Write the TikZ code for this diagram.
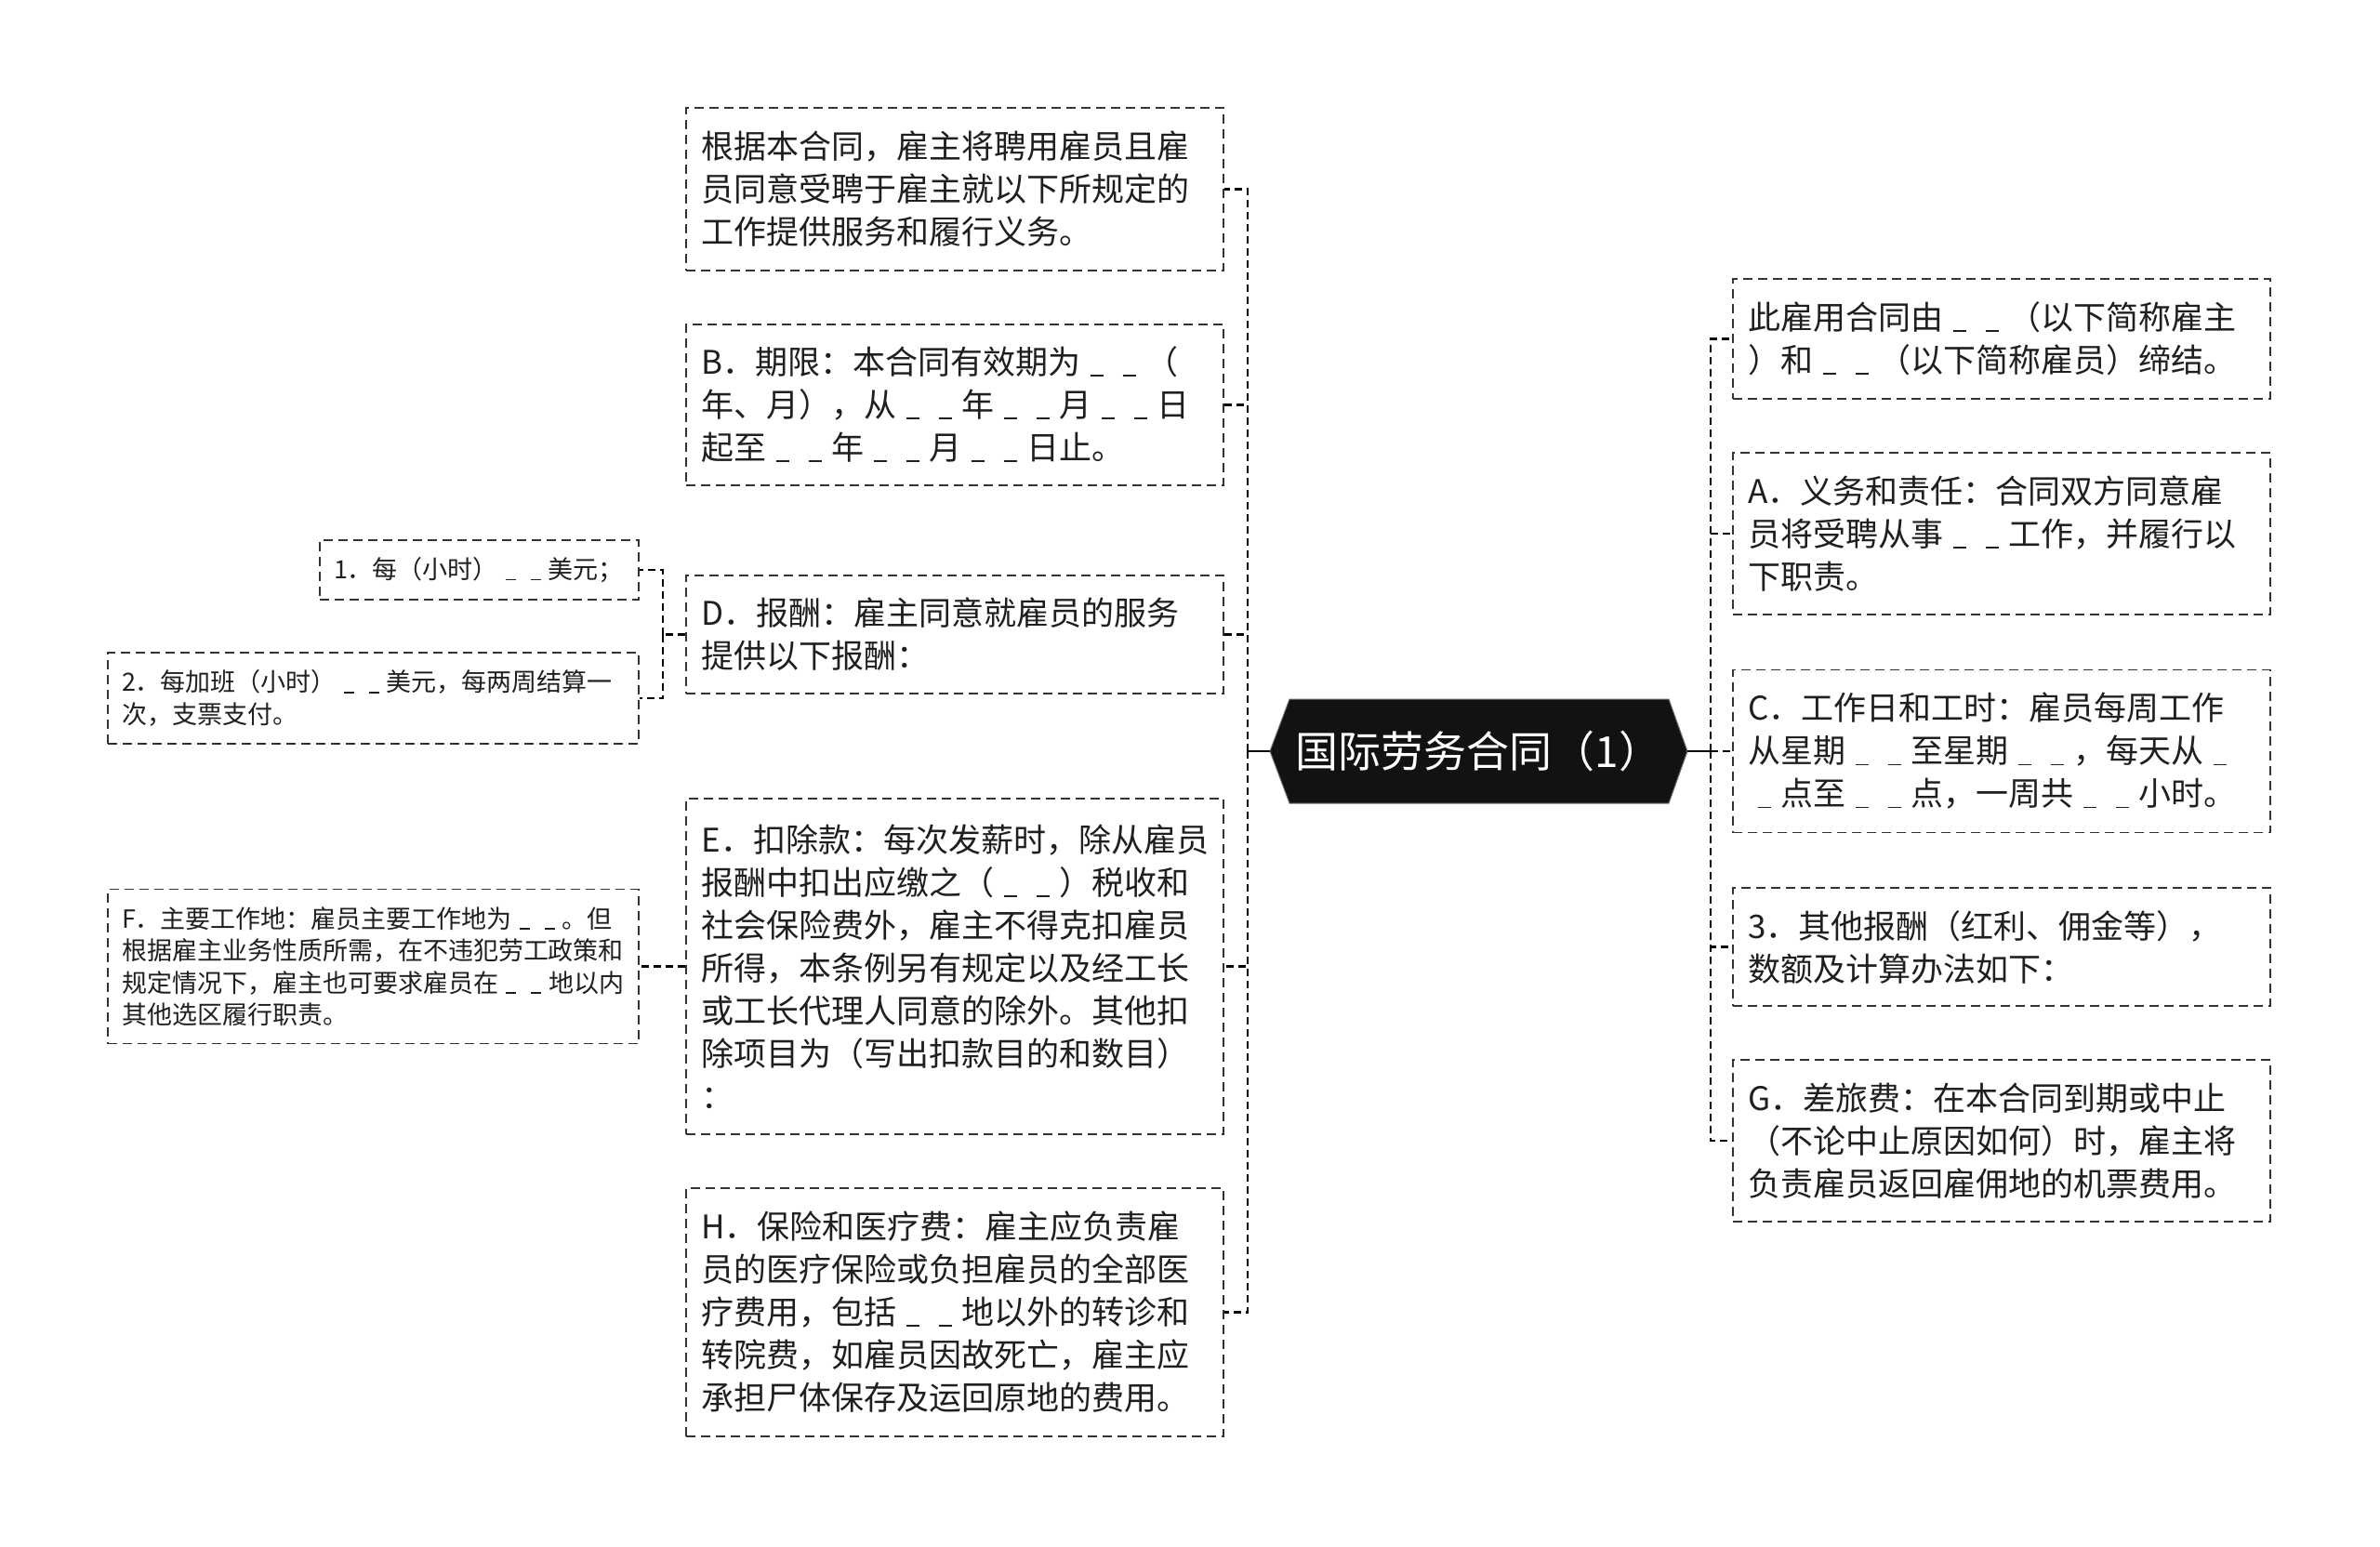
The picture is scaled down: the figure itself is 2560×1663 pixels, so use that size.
\documentclass[tikz,border=0pt]{standalone}
\usepackage{fontspec}
\newfontfamily\cjk{Noto Sans CJK SC}
\newcommand\bl{\leavevmode\hbox to 1em{\hss\rule[-0.07em]{0.42em}{0.055em}\hss}}
\tikzset{
  box/.style={draw=black!80, line width=1.9pt, dash pattern=on 10pt off 6pt,
    inner sep=0pt, align=left, anchor=center, text=black!88},
  bigbox/.style={box, font=\cjk\fontsize{35}{46}\selectfont, text width=545pt, minimum width=578pt},
  smallbox/.style={box, font=\cjk\fontsize{27}{34.5}\selectfont},
  conn/.style={line width=2.8pt, dash pattern=on 8pt off 5pt},
  stem/.style={line width=2.8pt},
}
\begin{document}
\begin{tikzpicture}[x=1pt,y=-1pt]
\useasboundingbox[fill=white] (0,0) rectangle (2560,1663);

% center node
\fill[black!93, draw=black!55, line width=1pt] (1366,808) -- (1387,752) -- (1795,752) -- (1815,808) -- (1795,864) -- (1387,864) -- cycle;
\node[minimum width=449pt, minimum height=112pt, inner sep=0pt, text=white,
  font=\cjk\fontsize{46}{50}\selectfont] (c) at (1590.5,808) {国际劳务合同（1）};

% left column
\node[bigbox, minimum height=175pt] (t1) at (1027,203.5) {根据本合同，雇主将聘用雇员且雇\\员同意受聘于雇主就以下所规定的\\工作提供服务和履行义务。};
\node[bigbox, minimum height=173pt] (tb) at (1027,435.5) {B．期限：本合同有效期为\bl{}\bl{}（\\年、月），从\bl{}\bl{}年\bl{}\bl{}月\bl{}\bl{}日\\起至\bl{}\bl{}年\bl{}\bl{}月\bl{}\bl{}日止。};
\node[bigbox, minimum height=127pt] (td) at (1027,682.5) {D．报酬：雇主同意就雇员的服务\\提供以下报酬：};
\node[bigbox, minimum height=361pt] (te) at (1027,1039.5) {E．扣除款：每次发薪时，除从雇员\\报酬中扣出应缴之（\bl{}\bl{}）税收和\\社会保险费外，雇主不得克扣雇员\\所得，本条例另有规定以及经工长\\或工长代理人同意的除外。其他扣\\除项目为（写出扣款目的和数目）\\：};
\node[bigbox, minimum height=267pt] (th) at (1027,1411.5) {H．保险和医疗费：雇主应负责雇\\员的医疗保险或负担雇员的全部医\\疗费用，包括\bl{}\bl{}地以外的转诊和\\转院费，如雇员因故死亡，雇主应\\承担尸体保存及运回原地的费用。};

% far left
\node[smallbox, minimum width=343pt, minimum height=64pt, text width=313pt] (b1) at (515.5,613) {1．每（小时）\bl{}\bl{}美元；};
\node[smallbox, minimum width=571pt, minimum height=98pt, text width=541pt] (b2) at (401.5,751) {2．每加班（小时）\bl{}\bl{}美元，每两周结算一\\次，支票支付。};
\node[smallbox, minimum width=571pt, minimum height=166pt, text width=541pt] (tf) at (401.5,1039.5) {F．主要工作地：雇员主要工作地为\bl{}\bl{}。但\\根据雇主业务性质所需，在不违犯劳工政策和\\规定情况下，雇主也可要求雇员在\bl{}\bl{}地以内\\其他选区履行职责。};

% right column
\node[bigbox, minimum height=129pt] (r1) at (2153,364.5) {此雇用合同由\bl{}\bl{}（以下简称雇主\\）和\bl{}\bl{}（以下简称雇员）缔结。};
\node[bigbox, minimum height=174pt] (ra) at (2153,574) {A．义务和责任：合同双方同意雇\\员将受聘从事\bl{}\bl{}工作，并履行以\\下职责。};
\node[bigbox, minimum height=175pt] (rc) at (2153,808) {C．工作日和工时：雇员每周工作\\从星期\bl{}\bl{}至星期\bl{}\bl{}，每天从\bl{}\\\bl{}点至\bl{}\bl{}点，一周共\bl{}\bl{}小时。};
\node[bigbox, minimum height=127pt] (r3) at (2153,1018.5) {3．其他报酬（红利、佣金等），\\数额及计算办法如下：};
\node[bigbox, minimum height=174pt] (rg) at (2153,1227) {G．差旅费：在本合同到期或中止\\（不论中止原因如何）时，雇主将\\负责雇员返回雇佣地的机票费用。};

% connectors
\coordinate (lj) at (1342,808);
\coordinate (rj) at (1840,808);
\coordinate (dj) at (713,682.5);
\draw[stem] (c.west) -- (lj);
\draw[stem] (c.east) -- (rj);
\foreach \n in {t1,tb,td,te,th} \draw[conn] (lj) |- (\n.east);
\foreach \n in {r1,ra,rc,r3,rg} \draw[conn] (rj) |- (\n.west);
\draw[conn] (td.west) -- (dj);
\draw[conn] (dj) |- (b1.east);
\draw[conn] (dj) |- (b2.east);
\draw[conn] (te.west) -- (tf.east);
\end{tikzpicture}
\end{document}
